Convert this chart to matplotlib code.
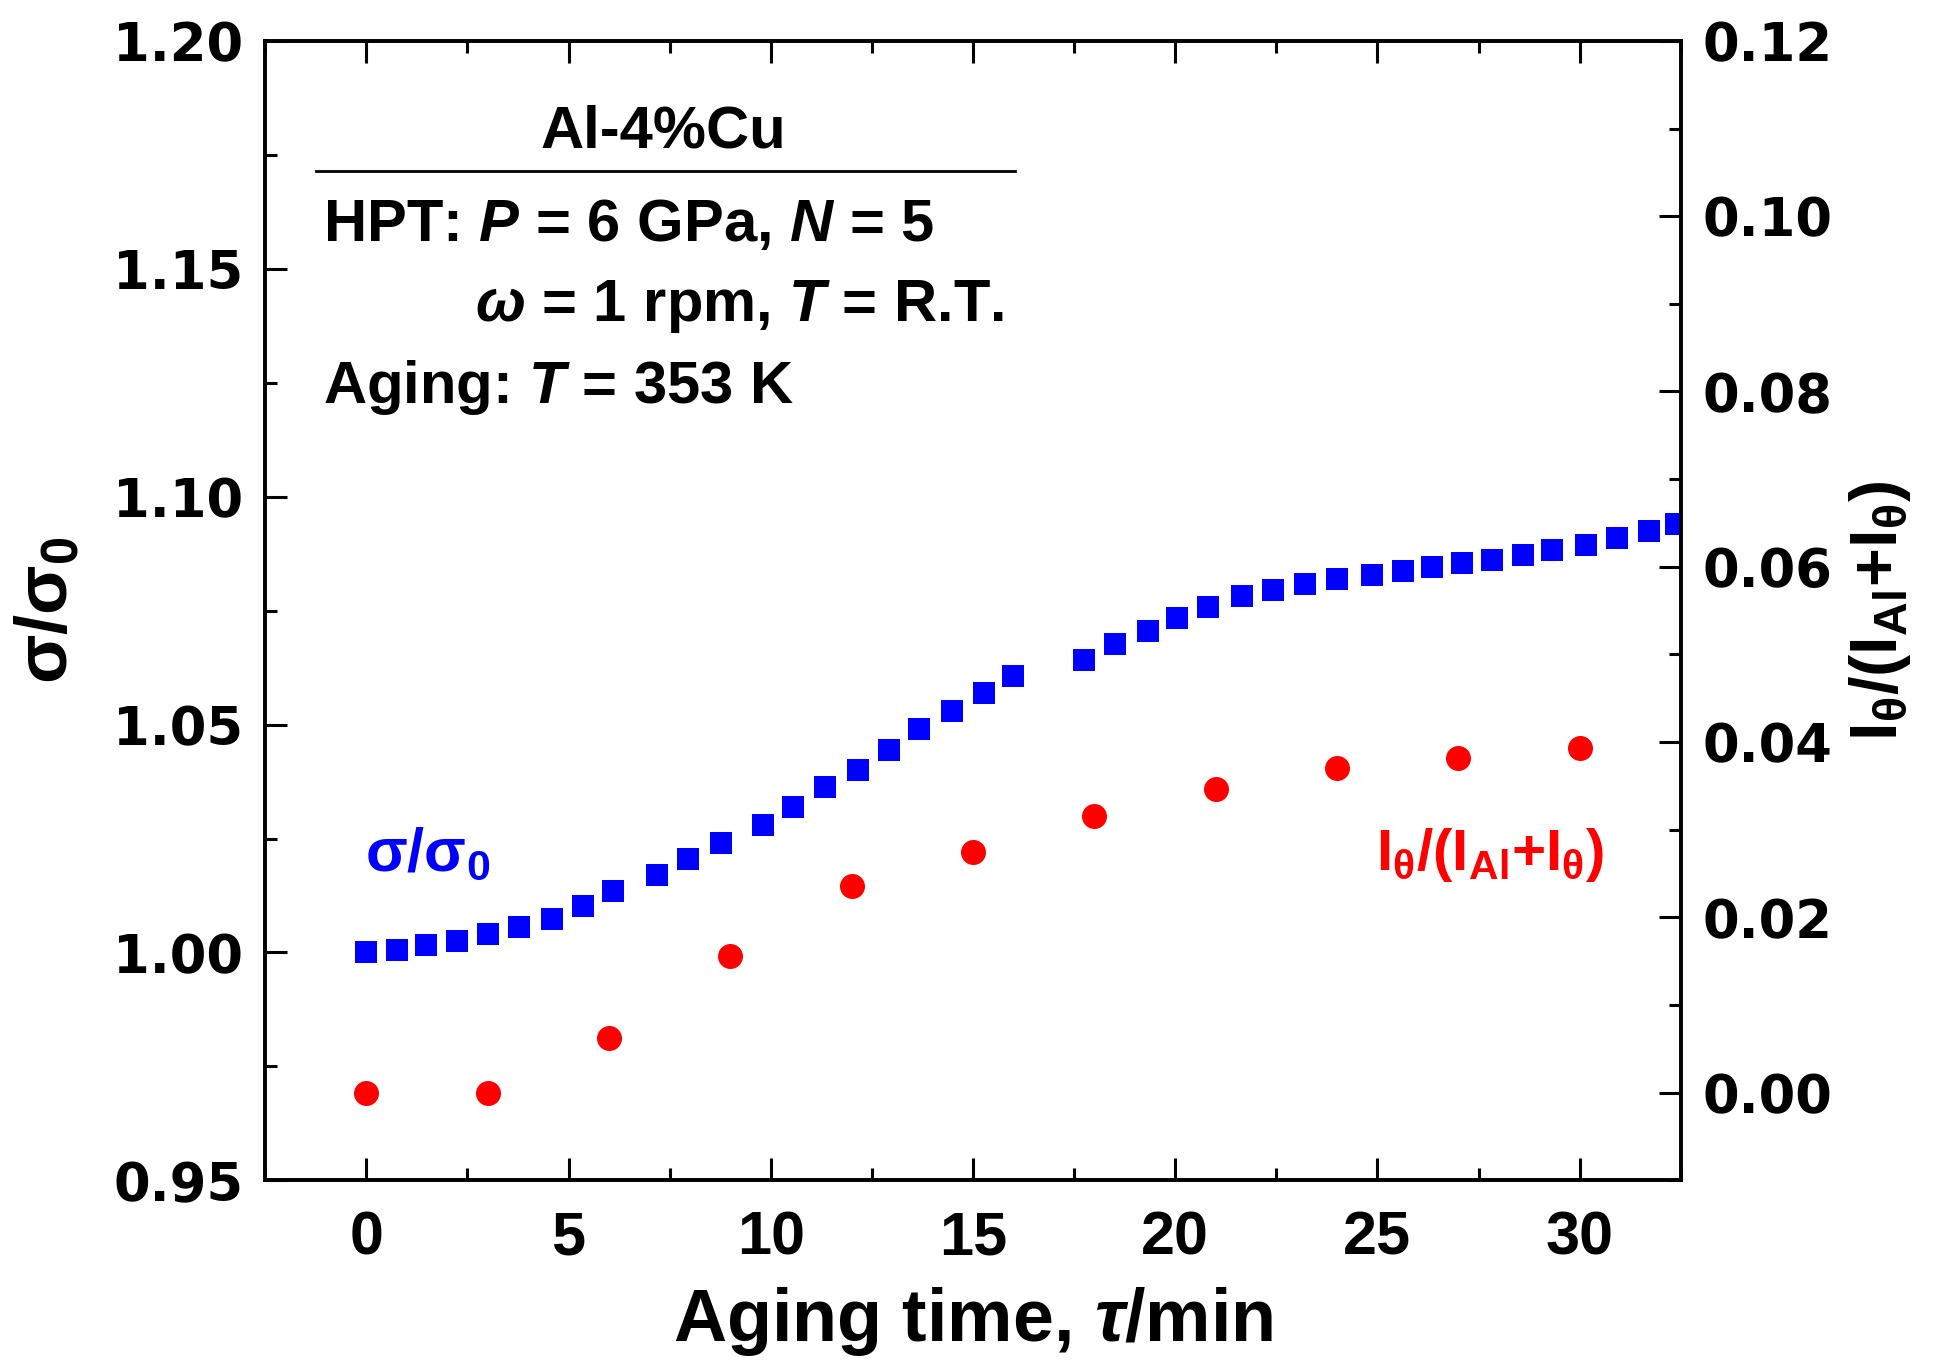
import matplotlib
matplotlib.use("Agg")
import matplotlib.pyplot as plt
from matplotlib.ticker import MultipleLocator, FormatStrFormatter

plt.rcParams['font.family'] = ['Liberation Sans', 'DejaVu Sans']
plt.rcParams['font.weight'] = 'bold'
plt.rcParams['mathtext.fontset'] = 'custom'
plt.rcParams['mathtext.rm'] = 'Liberation Sans:bold'
plt.rcParams['mathtext.it'] = 'Liberation Sans:italic:bold'
plt.rcParams['mathtext.bf'] = 'Liberation Sans:bold'

# flow stress ratio during aging
t_sigma = [0.0, 0.75, 1.48, 2.24, 3.00, 3.78, 4.59, 5.35, 6.09, 7.18, 7.95,
           8.76, 9.80, 10.55, 11.33, 12.16, 12.93, 13.66, 14.49, 15.27, 16.0,
           17.75, 18.50, 19.32, 20.04, 20.82, 21.66, 22.42, 23.21, 24.01,
           24.87, 25.63, 26.34, 27.08, 27.84, 28.61, 29.31, 30.15, 30.92,
           31.71, 32.39]
sigma_ratio = [1.0000, 1.0006, 1.0017, 1.0025, 1.0040, 1.0055, 1.0074, 1.0101,
               1.0135, 1.0169, 1.0206, 1.0241, 1.0280, 1.0320, 1.0362, 1.0401,
               1.0445, 1.0490, 1.0530, 1.0569, 1.0606,
               1.0642, 1.0677, 1.0706, 1.0733, 1.0759, 1.0781, 1.0795, 1.0808,
               1.0819, 1.0829, 1.0838, 1.0846, 1.0854, 1.0861, 1.0871, 1.0883,
               1.0893, 1.0909, 1.0924, 1.0941]

# theta phase XRD intensity fraction
t_theta = [0, 3, 6, 9, 12, 15, 18, 21, 24, 27, 30]
theta_frac = [0.0000, 0.0000, 0.0062, 0.0156, 0.0236, 0.0275, 0.0316, 0.0346,
              0.0370, 0.0382, 0.0393]

fig = plt.figure(figsize=(19.35, 13.63), dpi=100)
ax = fig.add_axes([0.1371, 0.134, 0.7315, 0.836])
ax2 = ax.twinx()

ax.plot(t_sigma, sigma_ratio, 's', color='#0000ff', markersize=15.5,
        markeredgewidth=0, clip_on=True, zorder=3)
ax2.plot(t_theta, theta_frac, 'o', color='#ff0000', markersize=18,
         markeredgewidth=0, zorder=3)

ax.set_xlim(-2.5, 32.5)
ax.set_ylim(0.95, 1.20)
ax2.set_ylim(-0.01, 0.12)

ax.xaxis.set_major_locator(MultipleLocator(5))
ax.xaxis.set_minor_locator(MultipleLocator(2.5))
ax.yaxis.set_major_locator(MultipleLocator(0.05))
ax.yaxis.set_minor_locator(MultipleLocator(0.025))
ax.yaxis.set_major_formatter(FormatStrFormatter('%.2f'))
ax2.yaxis.set_major_locator(MultipleLocator(0.02))
ax2.yaxis.set_minor_locator(MultipleLocator(0.01))
ax2.yaxis.set_major_formatter(FormatStrFormatter('%.2f'))

ax.tick_params(axis='x', which='both', direction='in', top=True, bottom=True,
               width=2.2, labelsize=44, pad=22)
ax.tick_params(axis='y', which='both', direction='in', left=True, right=False,
               width=2.2, labelsize=38, pad=16)
ax2.tick_params(axis='y', which='both', direction='in', width=2.2,
                labelsize=38, pad=16)
for a in (ax, ax2):
    a.tick_params(which='major', length=16)
    a.tick_params(which='minor', length=8.5)
    for s in a.spines.values():
        s.set_linewidth(2.6)

for lbl in ax.get_yticklabels() + ax2.get_yticklabels():
    lbl.set_family('DejaVu Sans')
    lbl.set_fontweight('bold')
for lbl in ax.get_xticklabels():
    lbl.set_fontweight('bold')

ax.set_xlabel(r"Aging time, $\tau$/min", fontsize=53, fontweight='bold',
              labelpad=12)
ax.set_ylabel(r"σ/σ$_0$", fontsize=52, fontweight='bold', labelpad=22)
ax2.set_ylabel(r"I$_\mathrm{θ}$/(I$_\mathrm{Al}$+I$_\mathrm{θ}$)",
               fontsize=48, fontweight='bold', labelpad=10)

# sample / processing description
ax.text(0.281, 0.906, "Al-4%Cu", transform=ax.transAxes, fontsize=43,
        ha='center', va='baseline')
ax.plot([0.0357, 0.530], [0.886, 0.886], color='black', linewidth=2,
        transform=ax.transAxes, clip_on=False)
ax.text(0.041, 0.8245, r"HPT: $P$ = 6 GPa, $N$ = 5", transform=ax.transAxes,
        fontsize=43, ha='left', va='baseline')
ax.text(0.148, 0.754, r"$ω$ = 1 rpm, $T$ = R.T.", transform=ax.transAxes,
        fontsize=43, ha='left', va='baseline')
ax.text(0.041, 0.6826, r"Aging: $T$ = 353 K", transform=ax.transAxes,
        fontsize=43, ha='left', va='baseline')

ax.text(0.0706, 0.272, r"σ/σ$_0$", transform=ax.transAxes, fontsize=44,
        color='#0000ff', ha='left', va='baseline')
ax.text(0.785, 0.272, r"I$_\mathrm{θ}$/(I$_\mathrm{Al}$+I$_\mathrm{θ}$)",
        transform=ax.transAxes, fontsize=42, color='#ff0000', ha='left',
        va='baseline')

fig.savefig("out.png", dpi=100)
